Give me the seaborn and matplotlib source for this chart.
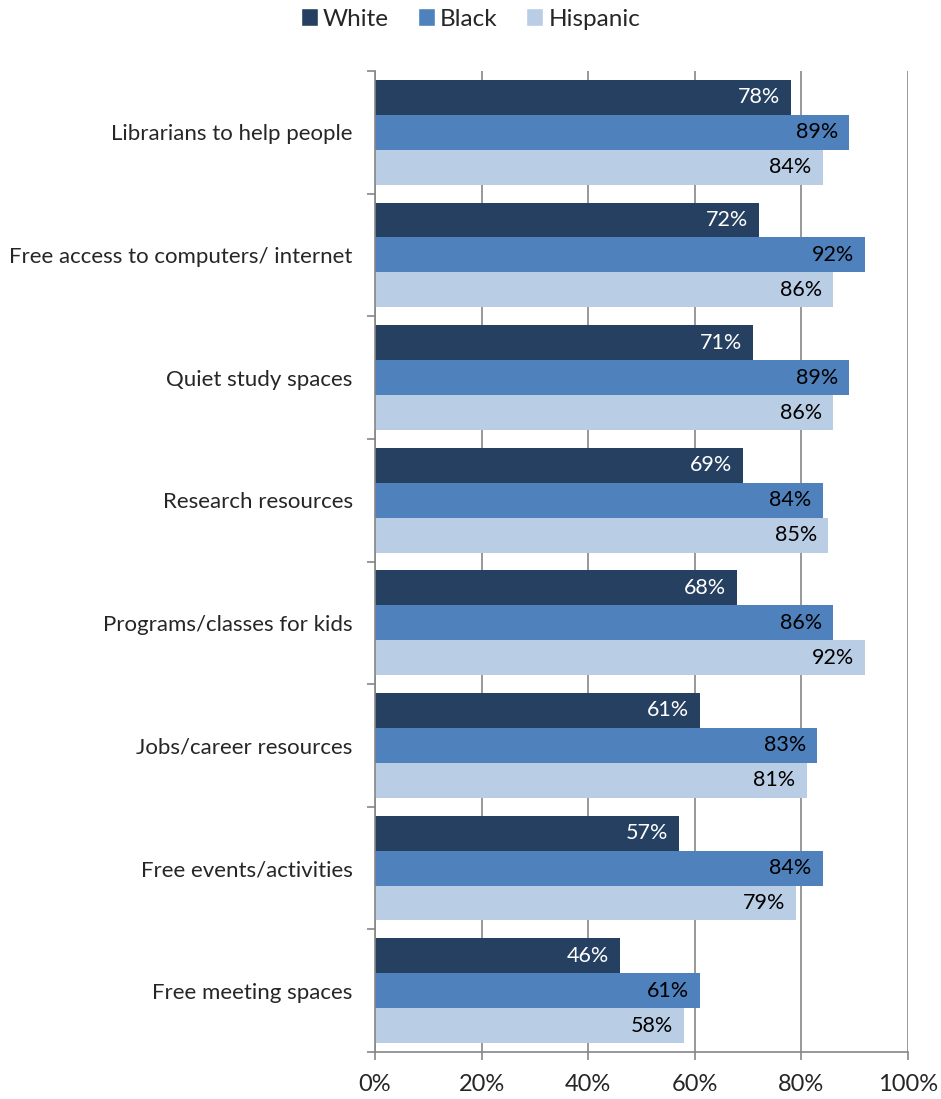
import numpy as np
import pandas as pd
import matplotlib
matplotlib.use("Agg")
import matplotlib.pyplot as plt
import seaborn as sns
from matplotlib.patches import Patch

categories = ["Librarians to help people", "Free access to computers/ internet",
              "Quiet study spaces", "Research resources", "Programs/classes for kids",
              "Jobs/career resources", "Free events/activities", "Free meeting spaces"]
white = [78, 72, 71, 69, 68, 61, 57, 46]
black = [89, 92, 89, 84, 86, 83, 84, 61]
hispanic = [84, 86, 86, 85, 92, 81, 79, 58]
series = ["White", "Black", "Hispanic"]
xticks = [0, 20, 40, 60, 80, 100]

colors = ["#264061", "#4F81BD", "#B9CDE5"]
label_colors = ["white", "black", "black"]

df = pd.DataFrame({
    "category": categories * 3,
    "value": white + black + hispanic,
    "group": ["White"] * 8 + ["Black"] * 8 + ["Hispanic"] * 8,
})

sns.set_style("white")
plt.rcParams['font.family'] = ['Lato', 'DejaVu Sans']

fig = plt.figure(figsize=(9.41, 10.99), dpi=100)
ax = fig.add_axes([375/941, 1 - 1052/1099, (908-375)/941, (1052-71)/1099])

sns.barplot(data=df, y="category", x="value", hue="group", hue_order=series,
            palette=colors, orient="h", width=0.855, ax=ax, legend=False,
            saturation=1, errorbar=None)

for cont, lc in zip(ax.containers, label_colors):
    texts = ax.bar_label(cont, labels=[f"{int(v)}%" for v in cont.datavalues],
                         padding=-8, color=lc, fontsize=15.5, label_type="edge")
    for t in texts:
        t.set_horizontalalignment("right")
    for p in cont.patches:
        p.set_edgecolor("none")

ax.set_xlim(0, 100)
ax.set_ylim(len(categories) - 0.5, -0.5)
ax.set_xticks(xticks)
ax.set_xticklabels([f"{t}%" for t in xticks], fontsize=17)
ax.set_yticks(range(len(categories)))
ax.set_yticklabels(categories, fontsize=16)
ax.set_yticks(np.arange(-0.5, len(categories), 1), minor=True)
ax.tick_params(axis="y", which="major", length=0, pad=16, left=True)
ax.tick_params(axis="y", which="minor", length=6, color="#868686", width=1.2,
               direction="out", left=True)
ax.tick_params(axis="x", which="major", length=6, color="#868686", width=1.2,
               direction="out", pad=10, bottom=True)
ax.set_xlabel("")
ax.set_ylabel("")
ax.grid(axis="x", color="#868686", linewidth=1.2)
ax.set_axisbelow(True)
for s in ["top", "right"]:
    ax.spines[s].set_visible(False)
for s in ["left", "bottom"]:
    ax.spines[s].set_color("#868686")
    ax.spines[s].set_linewidth(1.2)

handles = [Patch(facecolor=c, label=s) for c, s in zip(colors, series)]
fig.legend(handles=handles, loc="center", bbox_to_anchor=(0.5, 1 - 19/1099),
           ncol=3, frameon=False, fontsize=17.5, handlelength=0.7, handleheight=0.7,
           handletextpad=0.2, columnspacing=1.2)

fig.savefig("out.png", dpi=100)
